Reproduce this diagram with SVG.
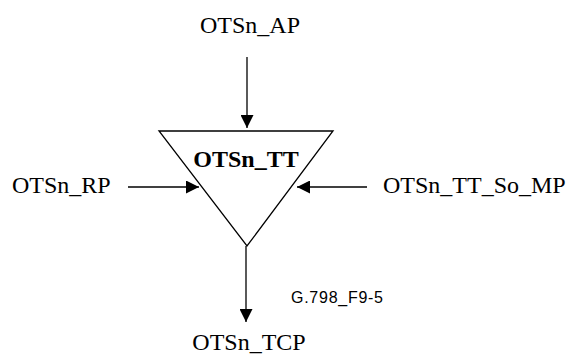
<svg xmlns="http://www.w3.org/2000/svg" width="566" height="356" viewBox="0 0 566 356">
<style>
.t{font-family:"Liberation Serif","Times New Roman",serif;font-size:24px;fill:#000}
.b{font-weight:bold}
.s{font-family:"Liberation Sans",Arial,sans-serif;font-size:16px;fill:#000}
.ln{stroke:#000;stroke-width:1.3;fill:none}
</style>
<defs>
<marker id="ah" markerWidth="13" markerHeight="13" refX="13" refY="6.5" orient="auto" markerUnits="userSpaceOnUse">
<path d="M0,0 L13,6.5 L0,13 Z" fill="#000"/>
</marker>
</defs>
<g id="node-tt">
<polygon points="159,131 333,131 247,246" fill="#fff" stroke="#000" stroke-width="1.3"/>
<text class="t b" x="246" y="167" text-anchor="middle">OTSn_TT</text>
</g>
<g id="node-ap"><text class="t" x="250" y="33" text-anchor="middle">OTSn_AP</text></g>
<g id="node-rp"><text class="t" x="12" y="193">OTSn_RP</text></g>
<g id="node-mp"><text class="t" x="383" y="193">OTSn_TT_So_MP</text></g>
<g id="node-tcp"><text class="t" x="249" y="350" text-anchor="middle">OTSn_TCP</text></g>
<g id="label"><text class="s" x="291" y="303" textLength="92">G.798_F9-5</text></g>
<g id="connectors">
<line class="ln" x1="247" y1="57" x2="247" y2="128" marker-end="url(#ah)"/>
<line class="ln" x1="128" y1="187" x2="199" y2="187" marker-end="url(#ah)"/>
<line class="ln" x1="367" y1="187" x2="297" y2="187" marker-end="url(#ah)"/>
<line class="ln" x1="246" y1="246" x2="246" y2="322" marker-end="url(#ah)"/>
</g>
</svg>
